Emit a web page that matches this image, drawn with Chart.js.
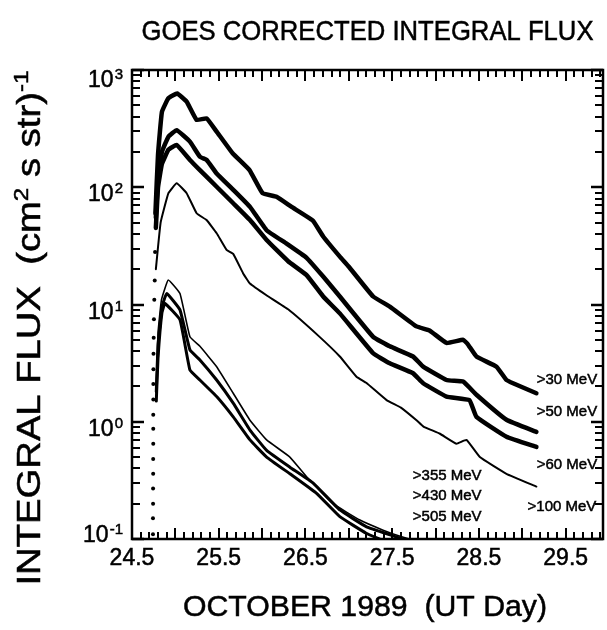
<!DOCTYPE html>
<html>
<head>
<meta charset="utf-8">
<title>GOES corrected integral flux</title>
<script src="https://cdn.jsdelivr.net/npm/chart.js@4.4.1/dist/chart.umd.min.js"></script>
<style>
  html, body { margin: 0; padding: 0; background: #fff; }
  #wrap { width: 607px; height: 630px; }
</style>
</head>
<body>
<div id="wrap"><canvas id="fluxChart" width="607" height="630"></canvas></div>
<script>
// ============================================================
//  GOES corrected integral flux, October 1989 event
// ============================================================

/* ── Data (UT day, integral flux) ── */
const days30  = [24.77, 24.80, 24.845, 24.92, 25.02, 25.13, 25.245, 25.36, 25.476, 25.66, 25.855, 26.005, 26.167, 26.34, 26.585, 26.704, 26.896, 27.0, 27.28, 27.472, 27.78, 27.93, 28.126, 28.317, 28.37, 28.471, 28.702, 28.817, 28.893, 29.162];
const flux30  = [60, 190, 440, 575, 630, 537, 375, 387, 298, 195, 140, 89, 83, 68, 52, 38, 25.6, 21, 11.7, 9.6, 6.5, 6.0, 4.7, 5.0, 4.6, 3.6, 2.95, 2.27, 2.13, 1.75];

const days50  = [24.775, 24.80, 24.845, 24.92, 25.015, 25.168, 25.283, 25.36, 25.476, 25.667, 25.86, 26.052, 26.283, 26.513, 26.704, 26.896, 27.28, 27.472, 27.74, 27.857, 28.126, 28.317, 28.471, 28.817, 29.162];
const flux50  = [55, 120, 200, 270, 307, 245, 182, 171, 131, 95, 68, 43, 33, 25, 17.3, 11.7, 5.3, 4.4, 3.6, 2.95, 2.27, 2.2, 1.7, 1.04, 0.82];

const days60  = [24.775, 24.80, 24.845, 24.92, 25.015, 25.168, 25.283, 25.476, 25.667, 25.86, 26.052, 26.3, 26.513, 26.704, 26.896, 27.28, 27.472, 27.74, 27.857, 28.126, 28.39, 28.471, 28.817, 29.162];
const flux60  = [45, 100, 158, 209, 229, 171, 140, 101, 73, 52.5, 35.5, 23.4, 17.8, 11.7, 8.4, 3.84, 3.15, 2.59, 2.13, 1.64, 1.53, 1.1, 0.745, 0.61];

const days100 = [24.775, 24.83, 24.92, 25.015, 25.13, 25.245, 25.36, 25.476, 25.59, 25.667, 25.78, 25.86, 26.05, 26.3, 26.65, 26.896, 27.088, 27.204, 27.435, 27.6, 27.78, 27.86, 28.05, 28.24, 28.356, 28.51, 28.817, 29.162];
const flux100 = [20, 50, 89, 108, 89, 60, 52.5, 40.5, 29.2, 27, 18.5, 15.1, 12, 9.1, 5.4, 3.6, 2.42, 2.14, 1.53, 1.32, 1.03, 0.91, 0.79, 0.65, 0.70, 0.50, 0.36, 0.28];

const days355 = [24.78, 24.80, 24.84, 24.918, 25.053, 25.168, 25.283, 25.476, 25.667, 25.86, 26.052, 26.32, 26.513, 26.82, 27.127, 27.395, 27.6, 27.9];
const flux355 = [2.0, 5.7, 11, 16.2, 12.4, 5.3, 4.4, 2.95, 1.75, 1.03, 0.70, 0.50, 0.34, 0.20, 0.145, 0.119, 0.105, 0.09];

const days430 = [24.78, 24.80, 24.845, 24.9, 25.053, 25.168, 25.283, 25.476, 25.667, 25.86, 26.052, 26.32, 26.589, 26.896, 27.204, 27.5, 27.8];
const flux430 = [1.8, 4.5, 9.5, 12.4, 9.0, 4.1, 3.37, 2.27, 1.44, 0.85, 0.57, 0.41, 0.30, 0.177, 0.127, 0.107, 0.09];

const days505 = [24.78, 24.80, 24.845, 24.88, 25.053, 25.168, 25.283, 25.476, 25.667, 25.86, 26.052, 26.32, 26.628, 26.896, 27.2, 27.5];
const flux505 = [1.5, 3.5, 8.5, 10.2, 7.4, 2.76, 2.27, 1.64, 1.1, 0.70, 0.50, 0.36, 0.245, 0.155, 0.112, 0.09];

// sparse samples of the steep onset (drawn as dots)
const onsetDays = [24.742, 24.742, 24.743, 24.743, 24.744, 24.744, 24.745, 24.745, 24.745, 24.746, 24.746, 24.747, 24.748, 24.750, 24.753, 24.757, 24.762, 24.766];
const onsetFlux = [0.11, 0.15, 0.2, 0.27, 0.36, 0.48, 0.65, 0.87, 1.15, 1.55, 2.1, 2.8, 3.8, 5.2, 7.5, 11, 16, 28];

const seriesNames = ['>30 MeV', '>50 MeV', '>60 MeV', '>100 MeV', '>355 MeV', '>430 MeV', '>505 MeV'];
const xTickLabels = ['24.5', '25.5', '26.5', '27.5', '28.5', '29.5'];
const yTickExps   = [-1, 0, 1, 2, 3];

/* ── Layout / style ── */
const X_MIN = 24.5, X_MAX = 29.93;
const Y_MIN = 0.1,  Y_MAX = 1000;
const FONT  = '"Liberation Sans", Arial, Helvetica, sans-serif';
const lineWidths = [4.5, 4.5, 4.5, 2, 1.6, 3, 3];
// where each series name sits (left edge, vertical middle), in data units
const labelSpots = [[29.166, 2.27], [29.166, 1.21], [29.166, 0.43], [29.06, 0.1875], [27.737, 0.344], [27.737, 0.233], [27.737, 0.154]];

const toPts = (xs, ys) => xs.map((d, i) => ({ x: d, y: ys[i] }));
const allDays = [days30, days50, days60, days100, days355, days430, days505];
const allFlux = [flux30, flux50, flux60, flux100, flux355, flux430, flux505];

const datasets = allDays.map((d, i) => ({
  label: seriesNames[i],
  data: toPts(d, allFlux[i]),
  borderColor: '#000',
  borderWidth: lineWidths[i],
  pointRadius: 0,
  tension: 0.1,
  borderJoinStyle: 'round',
  borderCapStyle: 'round',
}));
datasets.push({
  label: 'onset',
  data: toPts(onsetDays, onsetFlux),
  showLine: false,
  pointRadius: 2,
  pointBackgroundColor: '#000',
  pointBorderWidth: 0,
});

/* ── Helpers for text ── */
// print looks heavy, so every label gets a hairline stroke too
function inkText(ctx, text, x, y) {
  ctx.fillText(text, x, y);
  ctx.strokeText(text, x, y);
}

function fitText(ctx, text, x, y, target) {
  const w = ctx.measureText(text).width;
  ctx.save();
  ctx.translate(x, y);
  ctx.scale(target / w, 1);
  inkText(ctx, text, 0, 0);
  ctx.restore();
}

// segments: [text, isSuperscript]
function drawRich(ctx, segs, big, small, rise, target) {
  const widths = segs.map(([t, sup]) => {
    ctx.font = (sup ? small : big) + 'px ' + FONT;
    return ctx.measureText(t).width;
  });
  const total = widths.reduce((a, b) => a + b, 0);
  const k = target ? target / total : 1;
  ctx.save();
  ctx.scale(k, 1);
  let x = -total / 2;
  ctx.textAlign = 'left';
  segs.forEach(([t, sup], i) => {
    ctx.font = (sup ? small : big) + 'px ' + FONT;
    inkText(ctx, t, x, sup ? -rise : 0);
    x += widths[i];
  });
  ctx.restore();
}

/* ── Frame, inward ticks, labels ── */
const framePlugin = {
  id: 'goesFrame',
  afterDraw(chart) {
    const { ctx, chartArea: a, scales: { x, y } } = chart;
    ctx.save();
    ctx.strokeStyle = '#000';
    ctx.fillStyle = '#000';

    // frame
    ctx.lineWidth = 2.5;
    ctx.strokeRect(a.left, a.top, a.right - a.left, a.bottom - a.top);

    // x ticks every 0.1 day, longer at the half days
    ctx.lineWidth = 2;
    for (let n = 0; ; n++) {
      const v = X_MIN + n * 0.1;
      if (v > X_MAX + 1e-6) break;
      const px = Math.round(x.getPixelForValue(v));
      const len = n % 5 === 0 ? 11 : 7;
      ctx.beginPath();
      ctx.moveTo(px, a.bottom); ctx.lineTo(px, a.bottom - len);
      ctx.moveTo(px, a.top);    ctx.lineTo(px, a.top + len);
      ctx.stroke();
    }

    // y ticks: decades and 2..9 minors
    for (let e = -1; e <= 3; e++) {
      for (let m = 1; m <= 9; m++) {
        const v = m * Math.pow(10, e);
        if (v > Y_MAX * 1.0001) break;
        const py = Math.round(y.getPixelForValue(v));
        const len = m === 1 ? 12 : 8;
        ctx.lineWidth = m === 1 ? 2.6 : 2;
        ctx.beginPath();
        ctx.moveTo(a.left, py);  ctx.lineTo(a.left + len, py);
        ctx.moveTo(a.right, py); ctx.lineTo(a.right - len, py);
        ctx.stroke();
      }
    }

    ctx.lineWidth = 0.5;

    // x tick labels
    ctx.font = '23px ' + FONT;
    ctx.textAlign = 'center';
    ctx.textBaseline = 'alphabetic';
    xTickLabels.forEach(t => {
      inkText(ctx, t, x.getPixelForValue(parseFloat(t)), a.bottom + 26);
    });

    // y tick labels 10^n
    yTickExps.forEach(e => {
      const py = y.getPixelForValue(Math.pow(10, e));
      const base = Math.min(Math.max(py + 14, a.top + 17), a.bottom + 3);
      const sup = String(e);
      ctx.font = '15px ' + FONT;
      const supW = ctx.measureText(sup).width;
      const right = 123;
      ctx.textAlign = 'right';
      inkText(ctx, sup, right, base - 8);
      ctx.font = '23px ' + FONT;
      inkText(ctx, '10', right - supW - 1, base);
    });

    // series names
    ctx.font = '15px ' + FONT;
    ctx.textAlign = 'left';
    ctx.textBaseline = 'middle';
    seriesNames.forEach((name, i) => {
      const [lx, ly] = labelSpots[i];
      inkText(ctx, name, x.getPixelForValue(lx), y.getPixelForValue(ly));
    });

    // chart title
    ctx.textBaseline = 'alphabetic';
    ctx.textAlign = 'center';
    ctx.font = '28px ' + FONT;
    fitText(ctx, 'GOES CORRECTED INTEGRAL FLUX', (a.left + a.right) / 2, 40, 452);

    // x axis title
    ctx.font = '29px ' + FONT;
    fitText(ctx, 'OCTOBER 1989  (UT Day)', 365, 616, 364);

    // y axis title
    ctx.save();
    ctx.translate(40, 328);
    ctx.rotate(-Math.PI / 2);
    drawRich(ctx, [['INTEGRAL FLUX  (cm', false], ['2', true], [' s str)', false], ['-1', true]], 33, 21, 12, 515);
    ctx.restore();

    ctx.restore();
  }
};

/* ── Chart ── */
const fluxCtx = document.getElementById('fluxChart').getContext('2d');
new Chart(fluxCtx, {
  type: 'line',
  data: { datasets },
  options: {
    responsive: false,
    animation: false,
    devicePixelRatio: 1,
    layout: { padding: { left: 132, right: 4, top: 70, bottom: 91 } },
    plugins: {
      legend: { display: false },
      tooltip: { enabled: false },
    },
    scales: {
      x: { type: 'linear', min: X_MIN, max: X_MAX, display: false },
      y: { type: 'logarithmic', min: Y_MIN, max: Y_MAX, display: false },
    },
  },
  plugins: [framePlugin],
});
</script>
</body>
</html>
